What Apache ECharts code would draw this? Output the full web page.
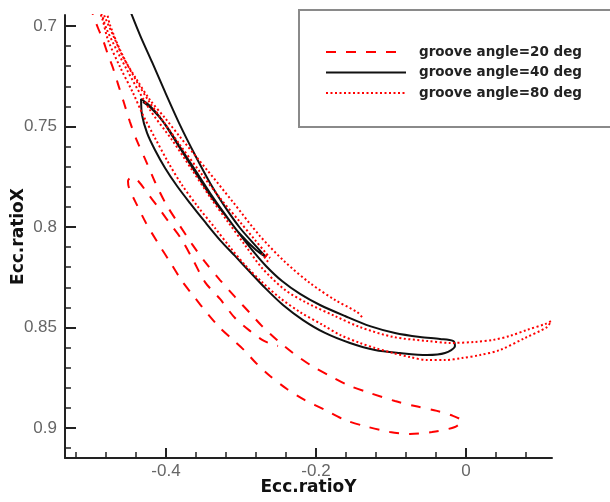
<!DOCTYPE html>
<html>
<head>
<meta charset="utf-8">
<script src="https://cdn.jsdelivr.net/npm/echarts@6/dist/echarts.min.js"></script>
<style>
  html, body { margin: 0; padding: 0; background: #fff; }
  #chart { width: 610px; height: 502px; }
</style>
</head>
<body>
<div id="chart"></div>
<script>
// Journal orbit traces: [Ecc.ratioY, Ecc.ratioX]
const seriesNames = ['groove angle=20 deg', 'groove angle=40 deg', 'groove angle=80 deg'];

const groove20 = [
  [-0.5013,0.6896],[-0.4973,0.6945],[-0.4907,0.7010],[-0.4840,0.7070],[-0.4773,0.7144],
  [-0.4707,0.7209],[-0.4640,0.7289],[-0.4560,0.7383],[-0.4480,0.7478],[-0.4387,0.7572],
  [-0.4267,0.7672],[-0.4147,0.7776],[-0.4000,0.7886],[-0.3840,0.7980],[-0.3653,0.8085],
  [-0.3480,0.8174],[-0.3280,0.8264],[-0.3080,0.8348],[-0.2880,0.8428],[-0.2720,0.8493],
  [-0.2520,0.8562],[-0.2307,0.8627],[-0.2053,0.8692],[-0.1787,0.8746],[-0.1547,0.8791],
  [-0.1280,0.8826],[-0.0947,0.8866],[-0.0680,0.8891],[-0.0387,0.8915],[-0.0173,0.8940],
  [-0.0053,0.8965],[-0.0147,0.8995],[-0.0453,0.9020],[-0.0747,0.9030],[-0.1013,0.9020],
  [-0.1307,0.8995],[-0.1613,0.8960],[-0.1880,0.8910],[-0.2147,0.8861],[-0.2387,0.8806],
  [-0.2613,0.8741],[-0.2800,0.8677],[-0.2960,0.8612],[-0.3120,0.8557],[-0.3280,0.8502],
  [-0.3453,0.8428],[-0.3613,0.8353],[-0.3787,0.8269],[-0.3947,0.8174],[-0.4107,0.8080],
  [-0.4267,0.7980],[-0.4400,0.7881],[-0.4493,0.7806],[-0.4507,0.7771],[-0.4453,0.7751],
  [-0.4360,0.7776],[-0.4240,0.7836],[-0.4107,0.7900],[-0.3973,0.7970],[-0.3813,0.8050],
  [-0.3653,0.8154],[-0.3480,0.8274],[-0.3280,0.8358],[-0.3080,0.8453],[-0.2880,0.8517],
  [-0.2693,0.8567],[-0.2507,0.8592]
];

const groove40 = [
  [-0.4493,0.6910],[-0.4347,0.7045],[-0.4187,0.7179],[-0.4013,0.7328],[-0.3813,0.7493],
  [-0.3613,0.7642],[-0.3413,0.7781],[-0.3213,0.7900],[-0.3013,0.8005],[-0.2813,0.8090],
  [-0.2667,0.8149],[-0.2800,0.8114],[-0.3013,0.8035],[-0.3213,0.7940],[-0.3387,0.7856],
  [-0.3613,0.7726],[-0.3840,0.7592],[-0.4053,0.7468],[-0.4213,0.7398],[-0.4333,0.7363],
  [-0.4320,0.7443],[-0.4253,0.7532],[-0.4147,0.7617],[-0.4013,0.7706],[-0.3853,0.7796],
  [-0.3680,0.7881],[-0.3480,0.7975],[-0.3280,0.8065],[-0.3080,0.8144],[-0.2880,0.8224],
  [-0.2680,0.8303],[-0.2440,0.8388],[-0.2173,0.8463],[-0.1880,0.8527],[-0.1547,0.8577],
  [-0.1213,0.8612],[-0.0880,0.8627],[-0.0520,0.8637],[-0.0280,0.8627],[-0.0147,0.8592],
  [-0.0173,0.8567],[-0.0347,0.8557],[-0.0613,0.8547],[-0.0947,0.8527],[-0.1280,0.8493],
  [-0.1613,0.8443],[-0.1947,0.8388],[-0.2213,0.8333],[-0.2453,0.8269],[-0.2667,0.8194],
  [-0.2853,0.8114],[-0.3040,0.8025],[-0.3227,0.7930],[-0.3413,0.7831],[-0.3613,0.7716],
  [-0.3813,0.7602],[-0.4013,0.7488],[-0.4187,0.7413],[-0.4307,0.7378]
];

const groove80 = [
  [-0.1387,0.8448],[-0.1453,0.8423],[-0.1747,0.8363],[-0.2080,0.8279],[-0.2413,0.8174],
  [-0.2747,0.8045],[-0.3107,0.7876],[-0.3453,0.7716],[-0.3813,0.7552],[-0.4013,0.7458],
  [-0.4213,0.7368],[-0.4387,0.7269],[-0.4573,0.7154],[-0.4707,0.7045],[-0.4827,0.6945],
  [-0.4880,0.6886],[-0.4933,0.6886],[-0.4853,0.6960],[-0.4773,0.7070],[-0.4613,0.7204],
  [-0.4440,0.7333],[-0.4307,0.7443],[-0.4147,0.7557],[-0.3973,0.7677],[-0.3787,0.7791],
  [-0.3573,0.7900],[-0.3347,0.8005],[-0.3147,0.8100],[-0.2947,0.8189],[-0.2720,0.8274],
  [-0.2480,0.8353],[-0.2213,0.8423],[-0.1907,0.8488],[-0.1680,0.8537],[-0.1413,0.8577],
  [-0.1213,0.8602],[-0.0973,0.8627],[-0.0747,0.8647],[-0.0520,0.8662],[-0.0280,0.8662],
  [-0.0053,0.8652],[0.0187,0.8637],[0.0453,0.8612],[0.0787,0.8552],[0.1080,0.8498],
  [0.1133,0.8468],[0.1053,0.8483],[0.0813,0.8512],[0.0587,0.8542],[0.0360,0.8562],
  [0.0120,0.8572],[-0.0213,0.8577],[-0.0520,0.8567],[-0.0973,0.8547],[-0.1413,0.8498],
  [-0.1747,0.8443],[-0.2120,0.8378],[-0.2413,0.8313],[-0.2720,0.8204],[-0.2947,0.8090],
  [-0.3173,0.7975],[-0.3413,0.7851],[-0.3653,0.7716],[-0.3920,0.7567],[-0.4213,0.7418],
  [-0.4520,0.7219],[-0.4787,0.7020],[-0.4867,0.6930],[-0.4907,0.6886],[-0.4840,0.6886],
  [-0.4747,0.6995],[-0.4613,0.7119],[-0.4440,0.7244],[-0.4240,0.7368],[-0.4040,0.7473],
  [-0.3813,0.7592],[-0.3547,0.7726],[-0.3280,0.7856],[-0.3013,0.7975],[-0.2813,0.8065],
  [-0.2680,0.8124],[-0.2613,0.8154],[-0.2720,0.8134],[-0.2640,0.8174]
];

// Axis ranges and tick positions
const xRange = [-0.5347, 0.1147];
const yRange = [0.69453, 0.91493];
const xMajorTicks = [-0.4, -0.2, 0];
const xMinorTicks = [-0.52, -0.48, -0.44, -0.36, -0.32, -0.28, -0.24, -0.16, -0.12, -0.08, -0.04, 0.04, 0.08];
const yMajorTicks = [0.7, 0.75, 0.8, 0.85, 0.9];
const yMinorTicks = [0.71, 0.72, 0.73, 0.74, 0.76, 0.77, 0.78, 0.79, 0.81, 0.82, 0.83, 0.84,
                     0.86, 0.87, 0.88, 0.89, 0.91];

const chart = echarts.init(document.getElementById('chart'), null, { renderer: 'canvas' });

const labelFont = { color: '#666', fontFamily: 'Liberation Sans, Arial, sans-serif', fontSize: 17 };
const nameFont = { color: '#111', fontFamily: 'DejaVu Sans, sans-serif', fontSize: 17, fontWeight: 'bold' };
const axisLine = { show: true, onZero: false, lineStyle: { color: '#222', width: 2 } };

const fmtX = v => (Math.abs(v) < 1e-9 ? '0' : String(+v.toFixed(2)));
const fmtY = v => String(+v.toFixed(2));

chart.setOption({
  animation: false,
  backgroundColor: '#fff',
  grid: { left: 65, right: 58, top: 15, bottom: 44, containLabel: false, outerBoundsMode: 'none' },
  graphic: [{
    type: 'rect', z: 1,
    shape: { x: 299, y: 10, width: 330, height: 117 },
    style: { fill: '#fff', stroke: '#8a8a8a', lineWidth: 2 }
  }],
  legend: {
    z: 10,
    orient: 'vertical',
    left: 325, top: 45,
    padding: 0,
    itemWidth: 80, itemHeight: 14, itemGap: 6.5,
    itemStyle: { opacity: 0 },
    textStyle: { color: '#222', fontFamily: 'DejaVu Sans, sans-serif', fontSize: 13.5, fontWeight: 'bold', padding: [0, 0, 0, 8] },
    data: seriesNames
  },
  xAxis: [{
    type: 'value', min: xRange[0], max: xRange[1],
    name: 'Ecc.ratioY', nameLocation: 'middle', nameGap: 21, nameMoveOverlap: false, nameTextStyle: nameFont,
    axisLine: axisLine,
    axisTick: { show: true, inside: true, length: 10, customValues: xMajorTicks, lineStyle: { color: '#222', width: 2 } },
    axisLabel: { show: true, margin: 5, customValues: xMajorTicks, formatter: fmtX, ...labelFont },
    splitLine: { show: false }
  }, {
    type: 'value', min: xRange[0], max: xRange[1], position: 'bottom',
    axisLine: { show: false, onZero: false },
    axisTick: { show: true, inside: true, length: 6, customValues: xMinorTicks, lineStyle: { color: '#222', width: 1.5 } },
    axisLabel: { show: false },
    splitLine: { show: false }
  }],
  yAxis: [{
    type: 'value', min: yRange[0], max: yRange[1], inverse: true,
    name: 'Ecc.ratioX', nameLocation: 'middle', nameGap: 38, nameMoveOverlap: false, nameTextStyle: nameFont,
    axisLine: axisLine,
    axisTick: { show: true, inside: true, length: 11, customValues: yMajorTicks, lineStyle: { color: '#222', width: 2 } },
    axisLabel: { show: true, margin: 8, customValues: yMajorTicks, formatter: fmtY, ...labelFont },
    splitLine: { show: false }
  }, {
    type: 'value', min: yRange[0], max: yRange[1], inverse: true, position: 'left',
    axisLine: { show: false, onZero: false },
    axisTick: { show: true, inside: true, length: 6, customValues: yMinorTicks, lineStyle: { color: '#222', width: 1.5 } },
    axisLabel: { show: false },
    splitLine: { show: false }
  }],
  series: [{
    name: seriesNames[0], type: 'line', data: groove20,
    xAxisIndex: 0, yAxisIndex: 0,
    symbol: 'none', smooth: 0.3, clip: true,
    lineStyle: { color: '#ff0000', width: 2, type: [10, 10] },
    itemStyle: { color: '#ff0000' }
  }, {
    name: seriesNames[1], type: 'line', data: groove40,
    xAxisIndex: 0, yAxisIndex: 0,
    symbol: 'none', smooth: 0.3, clip: true,
    lineStyle: { color: '#111', width: 2, type: 'solid' },
    itemStyle: { color: '#111' }
  }, {
    name: seriesNames[2], type: 'line', data: groove80,
    xAxisIndex: 0, yAxisIndex: 0,
    symbol: 'none', smooth: 0.3, clip: true,
    lineStyle: { color: '#ff0000', width: 2, type: [2, 2.5] },
    itemStyle: { color: '#ff0000' }
  }]
});
</script>
</body>
</html>
